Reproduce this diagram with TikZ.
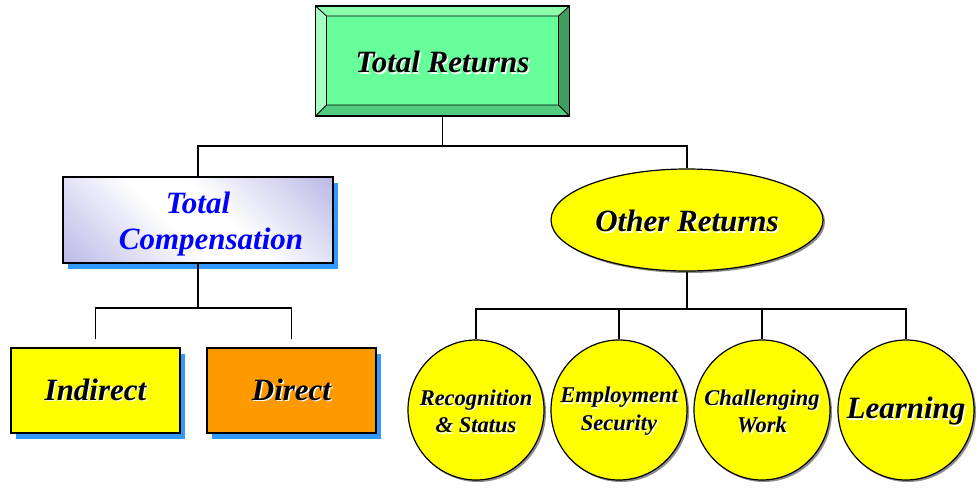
\documentclass[tikz,border=0pt]{standalone}
\usepackage{fontspec}
\setmainfont{Liberation Serif}
\usetikzlibrary{calc,shapes.geometric,shadows}
\definecolor{trfill}{HTML}{66FF99}
\definecolor{trtop}{HTML}{8CFFAD}
\definecolor{trleft}{HTML}{A6FFC2}
\definecolor{trright}{HTML}{3F9E5F}
\definecolor{trbot}{HTML}{52CC7E}
\definecolor{shblue}{HTML}{3399FF}
\definecolor{lav}{HTML}{B8B8E6}
\definecolor{yel}{HTML}{FFFF00}
\definecolor{org}{HTML}{FF9900}
\definecolor{tcblue}{HTML}{0000FF}
\pgfdeclarehorizontalshading{tcshade}{100bp}{color(0bp)=(lav); color(14bp)=(lav); color(44bp)=(white); color(56bp)=(white); color(86bp)=(lav); color(100bp)=(lav)}
\newcommand\sh[1]{\leavevmode\rlap{\kern1.5pt\raisebox{-1.5pt}{\color{white}#1}}#1}
\begin{document}
\begin{tikzpicture}[x=1pt,y=-1pt,
  line width=1pt,
  big/.style={font=\fontsize{31}{33}\selectfont\bfseries\itshape},
  small/.style={font=\fontsize{22.5}{27.5}\selectfont\bfseries\itshape, align=center, inner sep=0pt},
  sqbox/.style={draw=black, line width=1.2pt, inner sep=0pt, minimum width=169pt, minimum height=85pt,
    drop shadow={shadow xshift=5pt, shadow yshift=-6pt, fill=shblue, opacity=1}},
  oval/.style={ellipse, draw=black, line width=1.2pt, fill=yel, inner sep=0pt, align=center,
    drop shadow={shadow xshift=2pt, shadow yshift=-2pt, fill=black!45, opacity=1}},
  circ/.style={oval, minimum width=136pt, minimum height=140pt},
  conn/.style={draw=black, line width=1.6pt}
]
\useasboundingbox (0,0) rectangle (977,495);
% Total Returns bevel box
\node[inner sep=0pt, minimum width=253pt, minimum height=109pt] (tr) at (442.5,61) {};
\coordinate (A) at (tr.north west);
\coordinate (B) at (tr.north east);
\coordinate (C) at (tr.south east);
\coordinate (D) at (tr.south west);
\coordinate (a) at ($(A)+(11,10)$);
\coordinate (b) at ($(B)+(-11,10)$);
\coordinate (c) at ($(C)+(-11,-11)$);
\coordinate (d) at ($(D)+(11,-11)$);
\fill[trtop] (A) -- (B) -- (b) -- (a) -- cycle;
\fill[trright] (B) -- (C) -- (c) -- (b) -- cycle;
\fill[trbot] (D) -- (C) -- (c) -- (d) -- cycle;
\fill[trleft] (A) -- (a) -- (d) -- (D) -- cycle;
\fill[trfill] (a) rectangle (c);
\draw[line width=1.2pt] (A) rectangle (C);
\draw[line width=0.9pt] (a) rectangle (c) (A) -- (a) (B) -- (b) (C) -- (c) (D) -- (d);
\node[big] (trt) at (442.5,63) {\sh{Total Returns}};

% Total Compensation
\node[draw=black, line width=1.2pt, inner sep=0pt, minimum width=270pt, minimum height=86pt,
  shading=tcshade, shading angle=45,
  drop shadow={shadow xshift=5pt, shadow yshift=-6pt, fill=shblue, opacity=1}] (tc) at (198,220) {};
\node[align=center, text=tcblue, inner sep=0pt, font=\fontsize{31}{36}\selectfont\bfseries\itshape] (tct) at (198,224)
  {Total\\ \hspace*{26pt}Compensation};

% Indirect / Direct
\node[sqbox, fill=yel, big] (ind) at (95.5,390.5) {\sh{Indirect}};
\node[sqbox, fill=org, big] (dir) at (291.5,390.5) {\sh{Direct}};

% Other Returns
\node[oval, minimum width=272pt, minimum height=102pt] (or) at (687,220) {};
\node[big] (ort) at (687,222) {\sh{Other Returns}};

% circles
\node[circ] (c1) at (476,410) {};
\node[circ] (c2) at (619,410) {};
\node[circ] (c3) at (762,410) {};
\node[circ] (c4) at (906,410) {};
\node[small] (c1t) at (476,412) {\sh{Recognition}\\\sh{\& Status}};
\node[small] (c2t) at (619,412) {\sh{Employment}\\\sh{Security}};
\node[small] (c3t) at (762,412) {\sh{Challenging}\\\sh{Work}};
\node[big] (c4t) at (906,412) {\sh{Learning}};

% connectors
\coordinate (j1) at (442.5,146);
\coordinate (j2) at (198,308);
\coordinate (j3) at (687,309);
\draw[conn] (tr.south) -- (j1);
\draw[conn] (tc.north) |- (j1) -| (or.north);
\draw[conn] (tc.south) -- (j2);
\draw[conn] ([yshift=8pt]ind.north) |- (j2) -| ([yshift=8pt]dir.north);
\draw[conn] (or.south) -- (j3);
\draw[conn] (c1.north) |- (j3) -| (c4.north);
\draw[conn] (c2.north) -- (c2.north |- j3);
\draw[conn] (c3.north) -- (c3.north |- j3);
\end{tikzpicture}
\end{document}
